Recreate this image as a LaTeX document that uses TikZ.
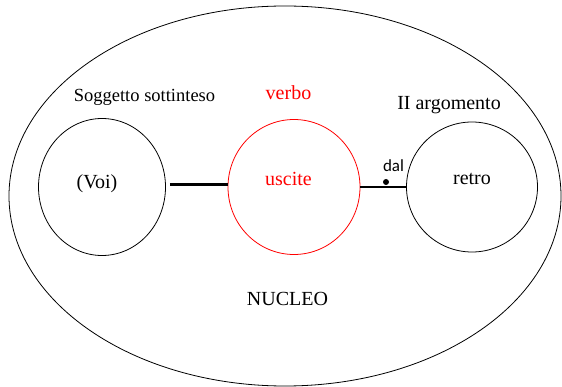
\documentclass[tikz,border=0pt]{standalone}
\usepackage{fontspec}
\setmainfont{Liberation Serif}
\newfontfamily\dalfont{Carlito}
\usetikzlibrary{shapes.geometric}
\definecolor{vred}{RGB}{255,0,0}
\begin{document}
\begin{tikzpicture}[x=1pt,y=-1pt,
  ring/.style={draw,ellipse,inner sep=0pt,line width=0.8pt},
  lab/.style={inner sep=0pt,font=\fontsize{20}{22}\selectfont},
  link/.style={line width=3pt}]
\useasboundingbox (0,0) rectangle (562,387);
\node[ring,minimum width=552pt,minimum height=380pt] (outer) at (285,196) {};
\node[ring,minimum width=127pt,minimum height=137pt] (voi) at (102,187) {};
\node[ring,draw=vred,minimum width=132pt,minimum height=135pt] (usc) at (294,187) {};
\node[ring,minimum width=131pt,minimum height=130pt] (ret) at (472,187) {};
\node[lab] (tvoi) at (97,184) {(Voi)};
\node[lab,text=vred] (tusc) at (288.5,179) {uscite};
\node[lab] (tret) at (472,179) {retro};
\node[lab,font=\fontsize{18.5}{20}\selectfont] (sogg) at (144.5,97) {Soggetto sottinteso};
\node[lab,text=vred] (verbo) at (288.5,93) {verbo};
\node[lab] (arg) at (449,105) {II argomento};
\node[lab] (nuc) at (287.5,299) {NUCLEO};
\node[inner sep=0pt,font=\dalfont\fontsize{17}{19}\selectfont] (dal) at (393.5,166) {dal};
\node[circle,fill,inner sep=0pt,minimum size=6pt] (dot) at (386,182) {};
\draw[link,shorten <=4pt] (voi.east |- 0,185) -- (usc.west |- 0,185);
\draw[line width=2pt] (usc.east) -- (ret.west);
\end{tikzpicture}
\end{document}
